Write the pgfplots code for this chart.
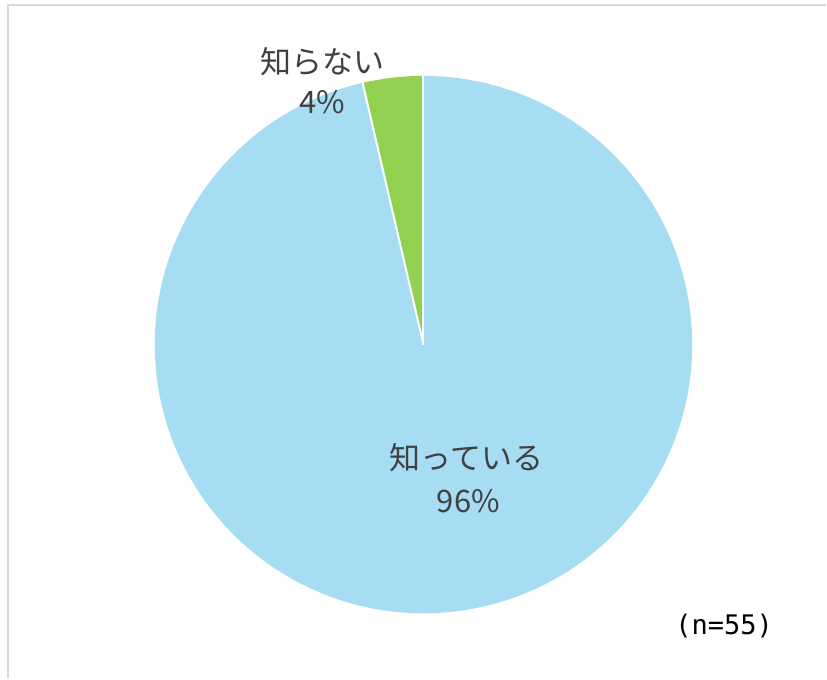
\documentclass[border=0pt]{standalone}
\usepackage{pgfplots}
\pgfplotsset{compat=1.18}
\usepackage{pgfplotstable}
\usepackage{fontspec}
\setmainfont{Noto Sans CJK JP}
\newfontfamily\monofont{DejaVu Sans Mono}
\definecolor{sliceblue}{HTML}{A6DDF3}
\definecolor{slicegreen}{HTML}{92D050}
\definecolor{labgray}{HTML}{404040}
\definecolor{framegray}{HTML}{D9D9D9}

\pgfplotstableread{
id value
0 53
1 2
}\piedata
\pgfplotstablegetelem{0}{value}\of\piedata \let\valA\pgfplotsretval
\pgfplotstablegetelem{1}{value}\of\piedata \let\valB\pgfplotsretval
\pgfmathsetmacro\total{\valA+\valB}
\pgfmathsetmacro\angB{90+360*\valB/\total}

\begin{document}
\begin{tikzpicture}
\begin{axis}[
  x=0.5pt, y=0.5pt,
  xmin=0, xmax=827, ymin=0, ymax=679,
  hide axis, clip=false,
  scale only axis,
]
\fill[white] (axis cs:0,0) rectangle (axis cs:827,679);
\draw[framegray, line width=1pt] (axis cs:8,0) -- (axis cs:8,674) -- (axis cs:827,674);
% slices
\fill[sliceblue] (axis cs:424,334) -- ++(\angB:134.5pt) arc[start angle=\angB, end angle=450, radius=134.5pt] -- cycle;
\fill[slicegreen] (axis cs:424,334) -- ++(90:134.5pt) arc[start angle=90, end angle=\angB, radius=134.5pt] -- cycle;
\draw[white, line width=1pt] (axis cs:424,334) -- ++(90:134.5pt);
\draw[white, line width=1pt] (axis cs:424,334) -- ++(\angB:134.5pt);
% labels
\node[labgray, font=\fontsize{15.5}{18}\selectfont] at (axis cs:323,617) {知らない};
\node[labgray, font=\fontsize{15.5}{18}\selectfont] at (axis cs:323,577) {4\%};
\node[labgray, font=\fontsize{15.5}{18}\selectfont] at (axis cs:467,221) {知っている};
\node[labgray, font=\fontsize{15.5}{18}\selectfont] at (axis cs:469,177) {96\%};
\node[black, font=\monofont\fontsize{13.5}{15}\selectfont] at (axis cs:725,52) {(n=55)};
\end{axis}
\end{tikzpicture}
\end{document}
